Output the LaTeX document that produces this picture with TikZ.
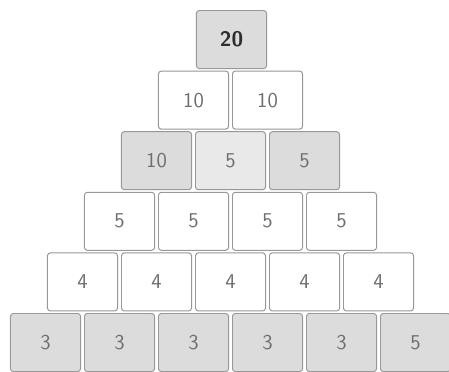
\documentclass[tikz,border=0pt]{standalone}
\usepackage{tikz}
\usepackage{xcolor}
\usetikzlibrary{positioning}
\definecolor{PyrFill}{HTML}{DCDCDC}
\definecolor{PyrFillLight}{HTML}{E9E9E9}
\definecolor{PyrLine}{HTML}{989898}
\definecolor{PyrInk}{HTML}{6E6E6E}
\definecolor{PyrDark}{HTML}{2E2E2E}
\tikzset{
  brBase/.style={
    font=\sffamily\fontsize{15pt}{15pt}\selectfont,
    text=PyrInk,
    minimum width=1.75cm,
    minimum height=1.45cm,
    inner sep=0pt,
    line width=0.7pt,
    draw=PyrLine,
    rounded corners=2pt
  },
  brWhite/.style={
    brBase,
    fill=white
  },
  brGray/.style={
    brBase,
    fill=PyrFill
  },
  brLight/.style={
    brBase,
    fill=PyrFillLight
  },
  brTop/.style={
    brGray,
    text=PyrDark,
    font=\sffamily\bfseries\fontsize{15pt}{15pt}\selectfont
  }
}

\begin{document}
\begin{tikzpicture}[x=0.025cm, y=-0.025cm, node distance=0.075cm]
        \useasboundingbox (0,0) rectangle (449,371);
        \clip (0,0) rectangle (449,371);
        \fill[white] (0,0) rectangle (449,371);

        % top
        \node (t1) [brTop] at (231.5,39.5) {20};

        % row 2
        \node (a1) [brWhite] at (193.5,100.1) {10};
        \node (a2) [brWhite, right=of a1] {10};

        % row 3
        \node (b1) [brGray] at (156.5,160.7) {10};
        \node (b2) [brLight, right=of b1] {5};
        \node (b3) [brGray, right=of b2] {5};

        % row 4
        \node (c1) [brWhite] at (119.5,221.3) {5};
        \node (c2) [brWhite, right=of c1] {5};
        \node (c3) [brWhite, right=of c2] {5};
        \node (c4) [brWhite, right=of c3] {5};

        % row 5
        \node (d1) [brWhite] at (82.5,281.9) {4};
        \node (d2) [brWhite, right=of d1] {4};
        \node (d3) [brWhite, right=of d2] {4};
        \node (d4) [brWhite, right=of d3] {4};
        \node (d5) [brWhite, right=of d4] {4};

        % bottom row
        \node (e1) [brGray] at (45.5,342.5) {3};
        \node (e2) [brGray, right=of e1] {3};
        \node (e3) [brGray, right=of e2] {3};
        \node (e4) [brGray, right=of e3] {3};
        \node (e5) [brGray, right=of e4] {3};
        \node (e6) [brGray, right=of e5] {5};
      \end{tikzpicture}
\end{document}
